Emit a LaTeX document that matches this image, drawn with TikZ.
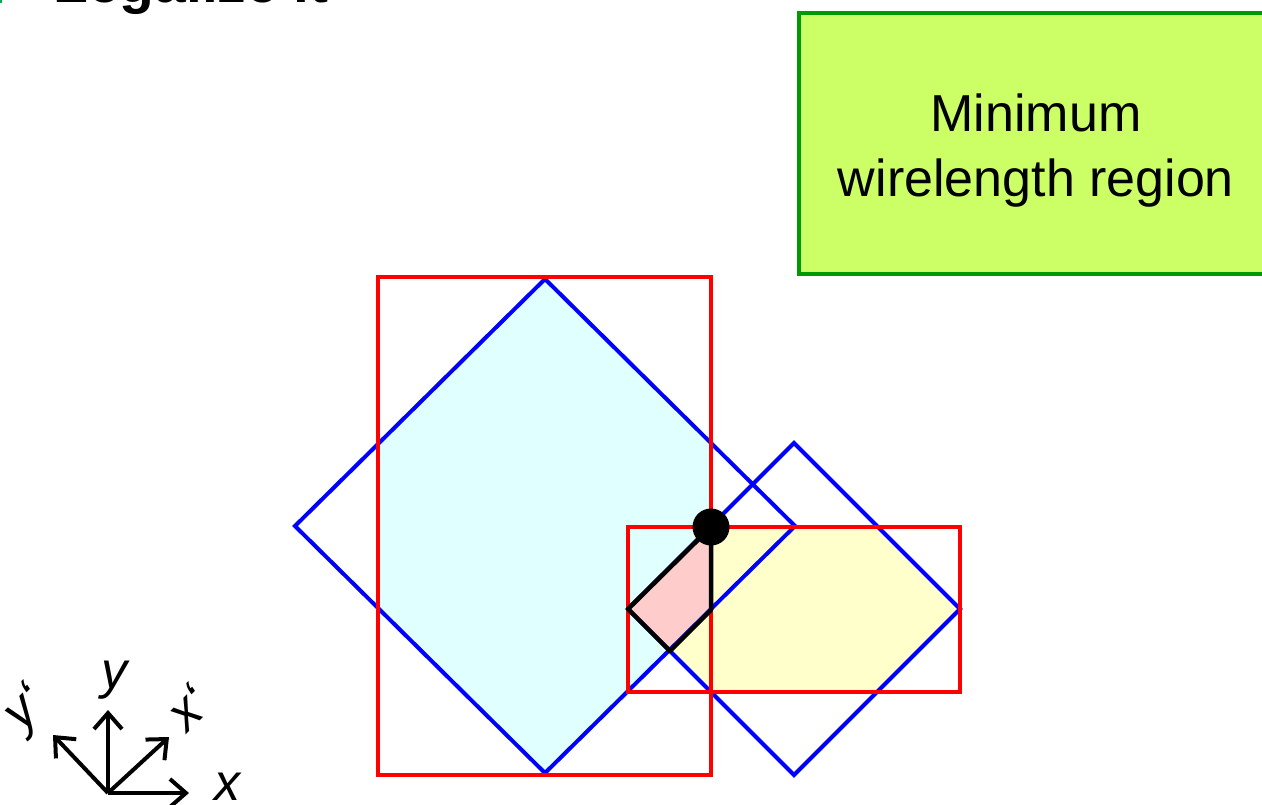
\documentclass[tikz,border=0pt]{standalone}
\usepackage{fontspec}
\setmainfont{Liberation Sans}
\usetikzlibrary{arrows.meta}
\definecolor{cyanfill}{RGB}{224,255,255}
\definecolor{yelfill}{RGB}{255,255,204}
\definecolor{pinkfill}{RGB}{255,204,204}
\definecolor{boxfill}{RGB}{204,255,102}
\definecolor{boxline}{RGB}{0,153,0}
\definecolor{bulletgreen}{RGB}{0,176,80}
\begin{document}
\begin{tikzpicture}[x=1pt,y=-1pt,
  blueline/.style={draw={rgb,255:red,0;green,0;blue,255},line width=4pt,line join=miter},
  redline/.style={draw={rgb,255:red,255;green,0;blue,0},line width=4.5pt},
  blackline/.style={draw=black,line width=4.5pt,line join=round},
  axisarrow/.style={line width=4pt,-{Straight Barb[length=16pt,width=28pt]}},
  axislabel/.style={font=\fontsize{52}{60}\selectfont\itshape,inner sep=0pt},
  boxtext/.style={font=\fontsize{52}{65}\selectfont,align=center,inner sep=0pt}]
\useasboundingbox (0,0) rectangle (1262,804);
% clipped title
\fill[bulletgreen] (-20,-20) rectangle (2,3);
\node[anchor=base west,inner sep=0pt,font=\fontsize{57}{60}\selectfont\bfseries] (title) at (53,2.5) {Legalize it};
% fills
\fill[cyanfill] (545,279) -- (711,445) -- (711,610) -- (545,773) -- (378,607) -- (378,443) -- cycle;
\fill[yelfill] (628,609) -- (711,527) -- (878,527) -- (960,609) -- (877,692) -- (711,692) -- cycle;
\fill[pinkfill] (711,527) -- (628,609) -- (670,651) -- (711,610) -- cycle;
% diamonds
\path[blueline] (545,279) -- (795,526) -- (545,773) -- (295,526) -- cycle;
\path[blueline] (794,443) -- (960,609) -- (794,775) -- (628,609) -- cycle;
% rectangles
\path[redline] (378,277) rectangle (711,775);
\path[redline] (628,527) rectangle (960,692);
% black outline of the intersection
\coordinate (p1) at (711,527);
\coordinate (p2) at (628,609);
\coordinate (p3) at (670,651);
\coordinate (p4) at (711,610);
\path[blackline] (p1) -- (p2) -- (p3) -- (p4) -- cycle;
\fill[black] (p1) circle (18.5);
% green box
\node[draw=boxline,fill=boxfill,line width=4pt,minimum width=480pt,minimum height=261pt,anchor=north west,inner sep=0pt] (box) at (797,11) {};
\node[boxtext] (boxlabel) at (1036,151) {Minimum\\wirelength region};
% axes
\coordinate (o) at (108,793);
\coordinate (ax) at (189,793);
\coordinate (ay) at (108,710);
\coordinate (axp) at (169,737);
\coordinate (ayp) at (53,735);
\draw[axisarrow] (o) -- (ax);
\draw[axisarrow] (o) -- (ay);
\draw[axisarrow] (o) -- (axp);
\draw[axisarrow] (o) -- (ayp);
\node[axislabel,anchor=base] (lx) at (227,800) {x};
\node[axislabel,anchor=base] (ly) at (114,688) {y};
\node[axislabel,rotate=45] (lxp) at (188,708) {x‘};
\node[axislabel,rotate=45] (lyp) at (27,710) {y‘};
\end{tikzpicture}
\end{document}
